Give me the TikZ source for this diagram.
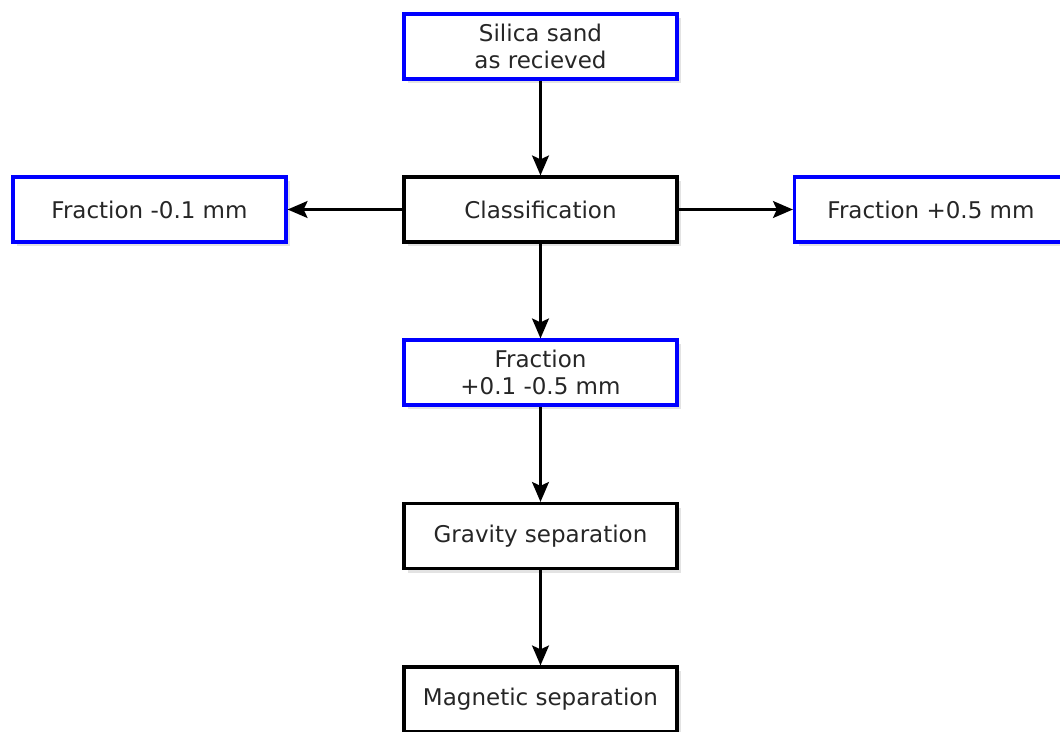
\documentclass[tikz,border=0pt]{standalone}
\usepackage{fontspec}
\setmainfont{DejaVu Sans}
\usepackage{tikz}
\usetikzlibrary{arrows.meta,shadows}

\begin{document}
\begin{tikzpicture}[x=1pt,y=-1pt,
		stepbox/.style={draw, line width=3.2pt, fill=white, minimum width=273pt, minimum height=65pt,
			inner sep=0pt, align=center, text=black!85,
			font=\fontsize{23}{27.5}\selectfont,
			drop shadow={opacity=0.22, shadow xshift=4pt, shadow yshift=-4pt}},
		outbox/.style={stepbox, draw=blue},
		flow/.style={-{Stealth[length=20pt,width=17pt,inset=4pt]}, line width=2.2pt, black}]
			\useasboundingbox (0,0) rectangle (1060,731);
			\clip (0,0) rectangle (1060,731);
			% main line
			\node [outbox] (sand) at (540.5, 46.5) {Silica sand\\as recieved};
			\node [stepbox] (classify) at (540.5, 209.5) {Classification};
			\node [outbox] (fine) at (149.5, 209.5) {Fraction -0.1 mm};
			\node [outbox] (coarse) at (931, 209.5) {Fraction +0.5 mm};
			\node [outbox] (middle) at (540.5, 372.5) {Fraction\\+0.1 -0.5 mm};
			\node [stepbox] (gravity) at (540.5, 536) {Gravity separation};
			\node [stepbox] (magnetic) at (540.5, 699.5) {Magnetic separation};
			\draw [flow] (sand) -- (classify);
			\draw [flow] (classify) -- (fine);
			\draw [flow] (classify) -- (coarse);
			\draw [flow] (classify) -- (middle);
			\draw [flow] (middle) -- (gravity);
			\draw [flow] (gravity) -- (magnetic);
		\end{tikzpicture}
\end{document}
